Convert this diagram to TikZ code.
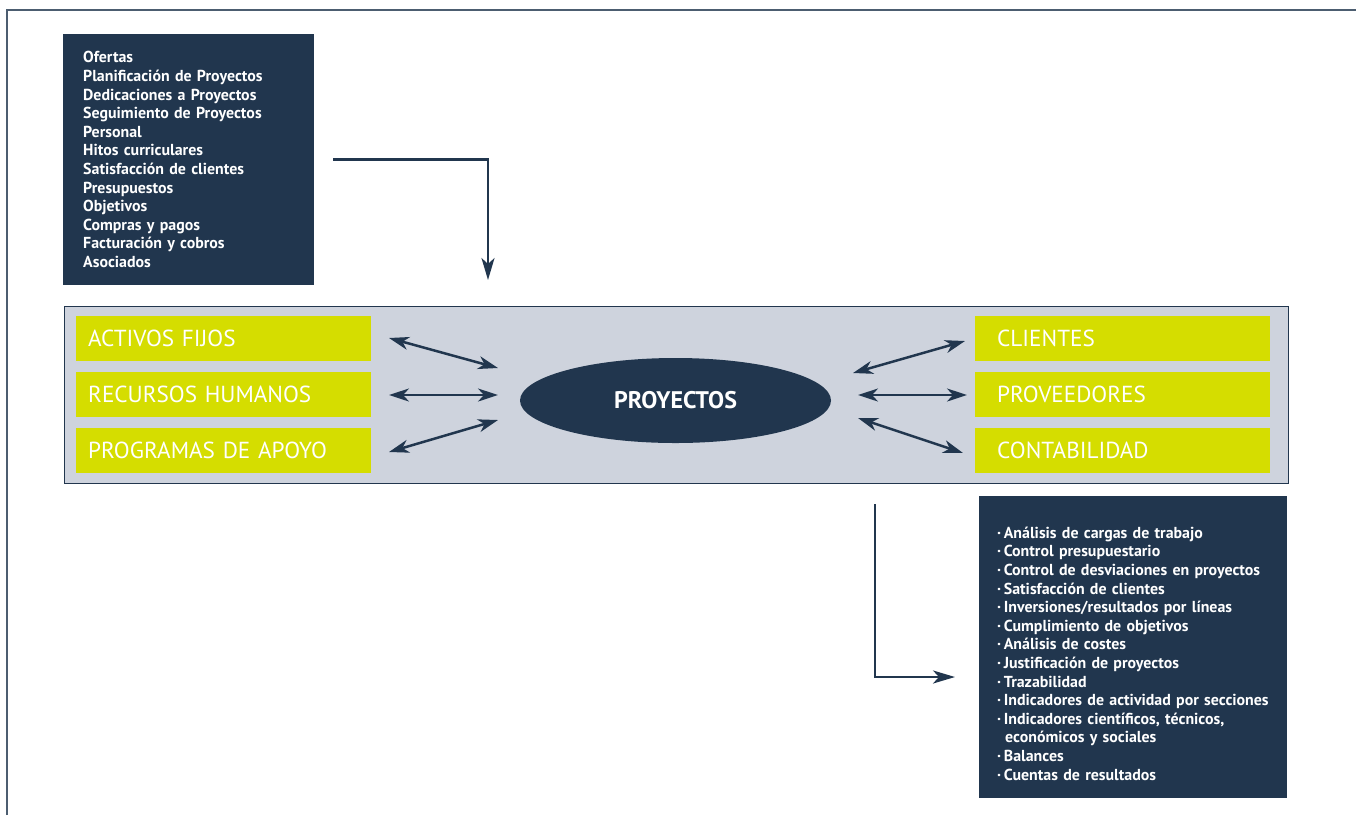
\documentclass[tikz,border=0pt]{standalone}
\usepackage{fontspec}
\setmainfont{PT Sans}
\usepackage{tikz}
\usetikzlibrary{shapes, positioning, calc, arrows.meta}

\definecolor{navy}{HTML}{21364E}
\definecolor{bandgrey}{HTML}{CED3DD}
\definecolor{lime}{HTML}{D5DD00}
\definecolor{framegrey}{HTML}{4C5D70}

\begin{document}
\begin{tikzpicture}[x=1pt, y=-1pt]
			\tikzstyle{listbox}=[fill=navy, text=white, anchor=north west, align=left, inner ysep=0pt, font=\bfseries\fontsize{15.9}{18.6}\selectfont]
			\tikzstyle{greenbox}=[fill=lime, text=white, anchor=west, align=left, minimum width=295pt, minimum height=45pt, inner xsep=12pt, text width=271pt, font=\fontsize{23.2}{23.2}\selectfont]
			\tikzstyle{link}=[navy, line width=2.5pt, {Stealth[length=20pt, width=13pt, inset=6pt]}-{Stealth[length=20pt, width=13pt, inset=6pt]}]
			\tikzstyle{flow}=[navy, line width=2.5pt, -{Stealth[length=22pt, width=13pt, inset=6pt]}]
			
			\useasboundingbox (0,0) rectangle (1356,815);
			\draw [framegrey, line width=2pt] (7,815) -- (7,10) -- (1356,10);
			
			\node (entradas) at (63,34) [listbox, inner xsep=20pt, text width=211pt, minimum height=251pt] {Ofertas\\
				Planificación de Proyectos\\
				Dedicaciones a Proyectos\\
				Seguimiento de Proyectos\\
				Personal\\
				Hitos curriculares\\
				Satisfacción de clientes\\
				Presupuestos\\
				Objetivos\\
				Compras y pagos\\
				Facturación y cobros\\
				Asociados};
			
			\node (band) at (64,306) [anchor=north west, fill=bandgrey, draw=navy, line width=1.2pt, minimum width=1224pt, minimum height=177pt] {};
			
			\node (activos) at (76,338.5) [greenbox] {ACTIVOS FIJOS};
			\node (rrhh) at (76,394.5) [greenbox] {RECURSOS HUMANOS};
			\node (programas) at (76,450.5) [greenbox] {PROGRAMAS DE APOYO};
			\node (clientes) at (975,338.5) [greenbox, inner xsep=22pt, text width=251pt] {CLIENTES};
			\node (proveedores) at (975,394.5) [greenbox, inner xsep=22pt, text width=251pt] {PROVEEDORES};
			\node (contab) at (975,450.5) [greenbox, inner xsep=22pt, text width=251pt] {CONTABILIDAD};
			
			\node (proy) at (675.5,400.5) [ellipse, fill=navy, text=white, minimum width=311pt, minimum height=85pt, inner sep=0pt, font=\bfseries\fontsize{24}{24}\selectfont] {PROYECTOS};
			
			\node (salidas) at (979,496) [listbox, inner xsep=18pt, text width=272pt, minimum height=302pt] {\rule{0pt}{24pt}·\,Análisis de cargas de trabajo\\
				·\,Control presupuestario\\
				·\,Control de desviaciones en proyectos\\
				·\,Satisfacción de clientes\\
				·\,Inversiones/resultados por líneas\\
				·\,Cumplimiento de objetivos\\
				·\,Análisis de costes\\
				·\,Justificación de proyectos\\
				·\,Trazabilidad\\
				·\,Indicadores de actividad por secciones\\
				·\,Indicadores científicos, técnicos,\\
				\hspace*{8pt}económicos y sociales\\
				·\,Balances\\
				·\,Cuentas de resultados};
			
			% arrow ends
			\coordinate (entradas out) at (333,159.5);
			\coordinate (band in) at (488,280);
			\coordinate (band out) at (875,504);
			\coordinate (salidas in) at (955,677);
			
			\coordinate (l1) at (389,338);
			\coordinate (l2) at (389,395);
			\coordinate (l3) at (389,452);
			\coordinate (pl1) at (498,368);
			\coordinate (pl2) at (498,395);
			\coordinate (pl3) at (498,420);
			\coordinate (pr1) at (853,373);
			\coordinate (pr2) at (858,395);
			\coordinate (pr3) at (858,418);
			\coordinate (r1) at (965,341);
			\coordinate (r2) at (967,395);
			\coordinate (r3) at (963,453);
			
			\draw [flow] (entradas out) -| (band in);
			\draw [flow] (band out) |- (salidas in);
			
			\draw [link] (l1) -- (pl1);
			\draw [link] (l2) -- (pl2);
			\draw [link] (l3) -- (pl3);
			\draw [link] (pr1) -- (r1);
			\draw [link] (pr2) -- (r2);
			\draw [link] (pr3) -- (r3);
\end{tikzpicture}
\end{document}
